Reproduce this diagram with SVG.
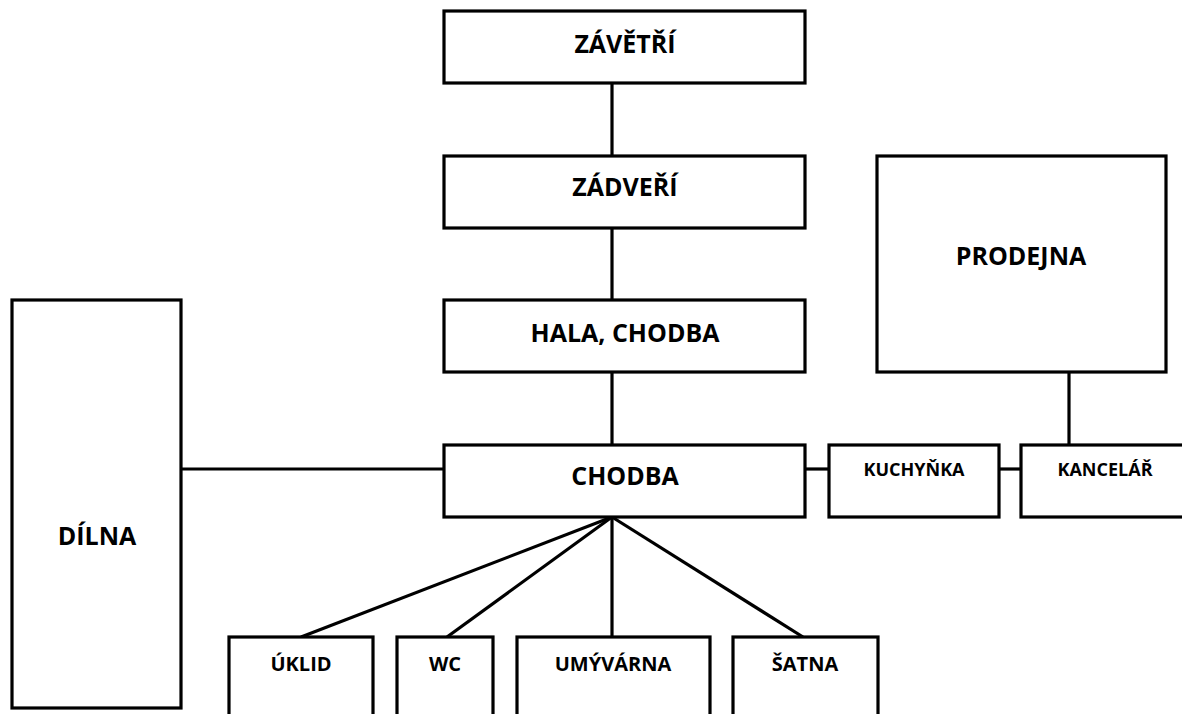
<svg xmlns="http://www.w3.org/2000/svg" width="1182" height="714" viewBox="0 0 1182 714">
<style>
.box{fill:#fff;stroke:#000;stroke-width:3.2}
.ln{stroke:#000;stroke-width:3.2;fill:none}
text{font-family:"Open Sans","Liberation Sans",sans-serif;font-weight:bold;fill:#000;text-anchor:middle}
.l{font-size:25px}
.m{font-size:18px}
.s{font-size:20px}
</style>
<rect width="1182" height="714" fill="#fff"/>
<g id="connectors">
<line class="ln" x1="612" y1="83" x2="612" y2="156"/>
<line class="ln" x1="612" y1="228" x2="612" y2="301"/>
<line class="ln" x1="612" y1="372" x2="612" y2="446"/>
<line class="ln" x1="181" y1="469" x2="445" y2="469"/>
<line class="ln" x1="805" y1="469" x2="829" y2="469"/>
<line class="ln" x1="999" y1="469" x2="1021" y2="469"/>
<line class="ln" x1="1069" y1="372" x2="1069" y2="445"/>
<line class="ln" x1="612" y1="517" x2="301" y2="637"/>
<line class="ln" x1="612" y1="517" x2="447" y2="637"/>
<line class="ln" x1="612" y1="517" x2="612" y2="637"/>
<line class="ln" x1="612" y1="517" x2="803" y2="637"/>
</g>
<g id="zavetri"><rect class="box" x="444" y="11" width="361" height="72"/><text class="l" x="625" y="53">ZÁVĚTŘÍ</text></g>
<g id="zadveri"><rect class="box" x="444" y="156" width="361" height="72"/><text class="l" x="625" y="196">ZÁDVEŘÍ</text></g>
<g id="hala"><rect class="box" x="444" y="300" width="361" height="72"/><text class="l" x="625" y="342">HALA, CHODBA</text></g>
<g id="chodba"><rect class="box" x="444" y="445" width="361" height="72"/><text class="l" x="625" y="485">CHODBA</text></g>
<g id="prodejna"><rect class="box" x="877" y="156" width="289" height="216"/><text class="l" x="1021" y="265">PRODEJNA</text></g>
<g id="kuchynka"><rect class="box" x="829" y="445" width="170" height="72"/><text class="m" x="914" y="476">KUCHYŇKA</text></g>
<g id="kancelar"><rect class="box" x="1021" y="445" width="170" height="72"/><text class="m" x="1105" y="476">KANCELÁŘ</text></g>
<g id="dilna"><rect class="box" x="12" y="300" width="169" height="408"/><text class="l" x="97" y="545">DÍLNA</text></g>
<g id="uklid"><rect class="box" x="229" y="637" width="144" height="90"/><text class="s" x="301" y="671">ÚKLID</text></g>
<g id="wc"><rect class="box" x="397" y="637" width="96" height="90"/><text class="s" x="445" y="671">WC</text></g>
<g id="umyvarna"><rect class="box" x="517" y="637" width="193" height="90"/><text class="s" x="613" y="671">UMÝVÁRNA</text></g>
<g id="satna"><rect class="box" x="733" y="637" width="145" height="90"/><text class="s" x="805" y="671">ŠATNA</text></g>
</svg>
